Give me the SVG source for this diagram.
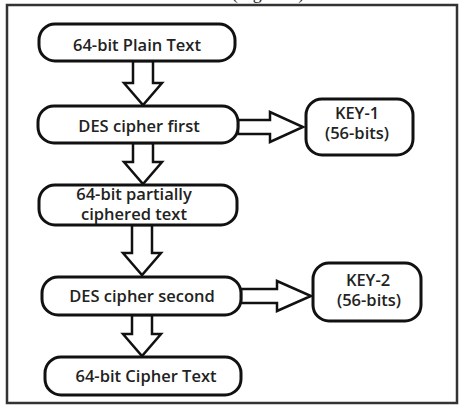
<svg xmlns="http://www.w3.org/2000/svg" width="459" height="412" viewBox="0 0 459 412">
<style>
.box{fill:#fff;stroke:#111;stroke-width:3}
.arr{fill:#fff;stroke:#111;stroke-width:2.5;stroke-linejoin:miter}
.t{font-family:"Open Sans","Liberation Sans",sans-serif;font-weight:600;font-size:16.5px;fill:#222;text-anchor:middle}
</style>
<rect x="0" y="0" width="459" height="412" fill="#fff"/>
<text x="268" y="-1" font-family="Liberation Serif,serif" font-size="18" text-anchor="middle" fill="#222">(Figure 1)</text>
<rect x="7" y="5" width="450" height="398" fill="none" stroke="#333" stroke-width="2.5"/>
<g id="connectors">
<polygon class="arr" points="133,61 153,61 153,83 162,83 143,105 124,83 133,83"/>
<polygon class="arr" points="133,143 153,143 153,162 162,162 143,184 124,162 133,162"/>
<polygon class="arr" points="132,225 152,225 152,253 161,253 142,275 123,253 132,253"/>
<polygon class="arr" points="132,315 152,315 152,334 161,334 142,356 123,334 132,334"/>
<polygon class="arr" points="238,120 270,120 270,112 303,127 270,142 270,134 238,134"/>
<polygon class="arr" points="241,289 277,289 277,281 311,296 277,311 277,303 241,303"/>
</g>
<g id="n1"><rect class="box" x="39" y="24" width="196" height="37" rx="16"/><text class="t" x="137" y="51">64-bit Plain Text</text></g>
<g id="n2"><rect class="box" x="38" y="106" width="200" height="37" rx="16"/><text class="t" x="139" y="132">DES cipher first</text></g>
<g id="n3"><rect class="box" x="39" y="185" width="198" height="40" rx="16"/><text class="t" x="134" y="200">64-bit partially</text><text class="t" x="134" y="220">ciphered text</text></g>
<g id="n4"><rect class="box" x="42" y="277" width="199" height="38" rx="16"/><text class="t" x="142" y="302">DES cipher second</text></g>
<g id="n5"><rect class="box" x="45" y="357" width="196" height="38" rx="16"/><text class="t" x="146" y="382">64-bit Cipher Text</text></g>
<g id="k1"><rect class="box" x="306" y="99" width="107" height="56" rx="16"/><text class="t" x="357" y="119">KEY-1</text><text class="t" x="357" y="139">(56-bits)</text></g>
<g id="k2"><rect class="box" x="313" y="263" width="108" height="58" rx="16"/><text class="t" x="368" y="286">KEY-2</text><text class="t" x="369" y="306">(56-bits)</text></g>
</svg>
